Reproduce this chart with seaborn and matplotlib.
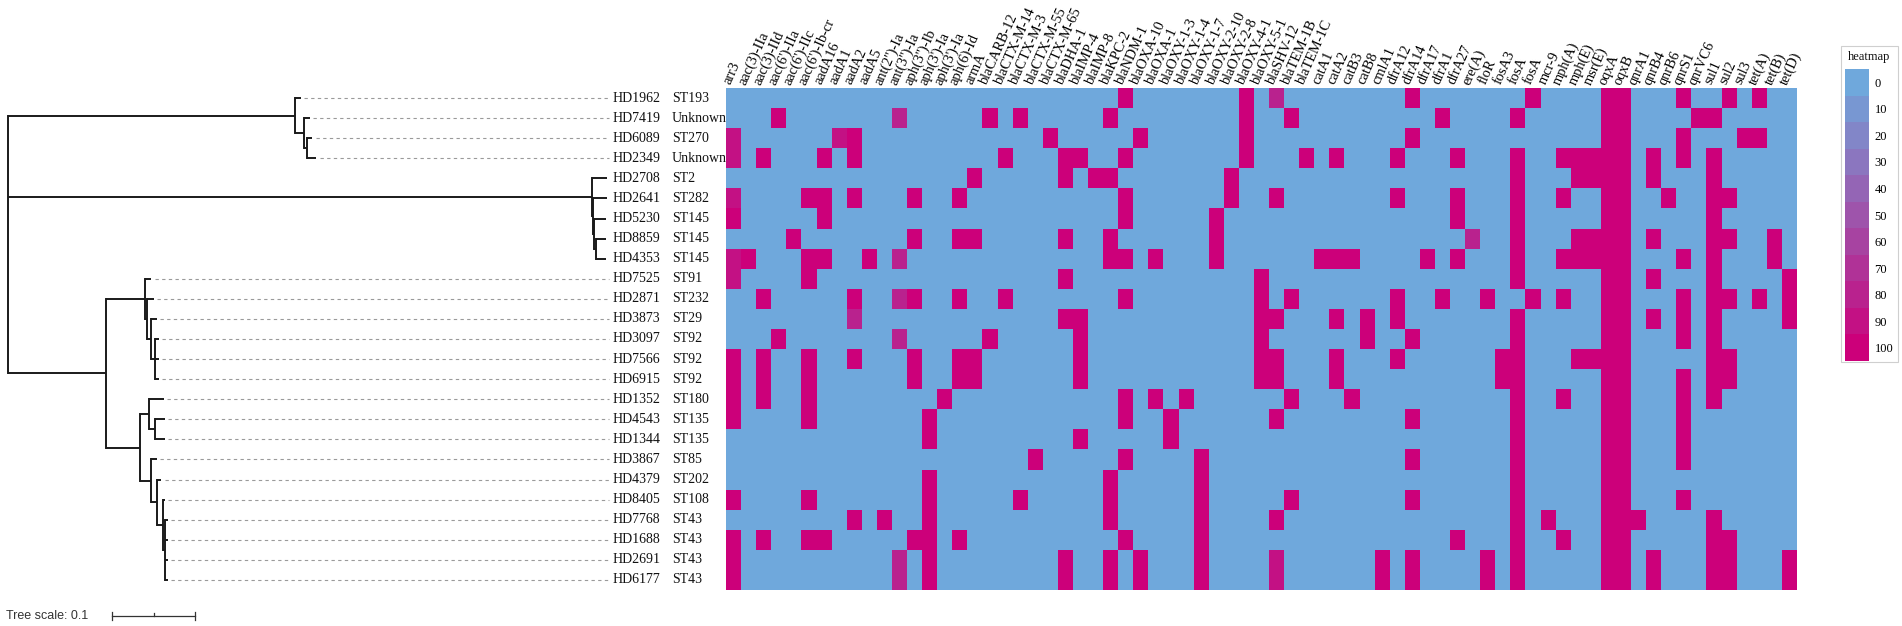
import numpy as np
import pandas as pd
import matplotlib
matplotlib.use("Agg")
import matplotlib.pyplot as plt
import seaborn as sns
from matplotlib.colors import ListedColormap, Normalize, to_rgb
from matplotlib.cm import ScalarMappable
from matplotlib.patches import Rectangle

# ---------------- data ----------------
genes = ["arr3", "aac(3)-IIa", "aac(3)-IId", "aac(6')-IIa", "aac(6')-IIc", "aac(6')-Ib-cr",
         "aadA16", "aadA1", "aadA2", "aadA5", "ant(2'')-Ia", "ant(3'')-Ia", "aph(3'')-Ib",
         "aph(3')-Ia", "aph(3')-Ia", "aph(6)-Id", "armA", "blaCARB-12", "blaCTX-M-14",
         "blaCTX-M-3", "blaCTX-M-55", "blaCTX-M-65", "blaDHA-1", "blaIMP-4", "blaIMP-8",
         "blaKPC-2", "blaNDM-1", "blaOXA-10", "blaOXA-1", "blaOXY-1-3", "blaOXY-1-4",
         "blaOXY-1-7", "blaOXY-2-10", "blaOXY-2-8", "blaOXY-4-1", "blaOXY-5-1", "blaSHV-12",
         "blaTEM-1B", "blaTEM-1C", "catA1", "catA2", "catB3", "catB8", "cmlA1", "dfrA12",
         "dfrA14", "dfrA17", "dfrA1", "dfrA27", "ere(A)", "floR", "fosA3", "fosA", "fosA",
         "mcr-9", "mph(A)", "mph(E)", "msr(E)", "oqxA", "oqxB", "qnrA1", "qnrB4", "qnrB6",
         "qnrS1", "qnrVC6", "sul1", "sul2", "sul3", "tet(A)", "tet(B)", "tet(D)"]

isolates = ["HD1962", "HD7419", "HD6089", "HD2349", "HD2708", "HD2641", "HD5230", "HD8859",
            "HD4353", "HD7525", "HD2871", "HD3873", "HD3097", "HD7566", "HD6915", "HD1352",
            "HD4543", "HD1344", "HD3867", "HD4379", "HD8405", "HD7768", "HD1688", "HD2691",
            "HD6177"]
st_types = ["ST193", "Unknown", "ST270", "Unknown", "ST2", "ST282", "ST145", "ST145", "ST145",
            "ST91", "ST232", "ST29", "ST92", "ST92", "ST92", "ST180", "ST135", "ST135", "ST85",
            "ST202", "ST108", "ST43", "ST43", "ST43", "ST43"]

# gene columns with identity 100 for each isolate (row order)
full_hits = [
    [26, 34, 45, 53, 58, 59, 63, 66, 68],
    [3, 17, 19, 25, 34, 37, 47, 52, 58, 59, 64, 65],
    [8, 21, 27, 34, 45, 58, 59, 63, 67, 68],
    [2, 6, 8, 18, 22, 23, 26, 34, 38, 40, 44, 48, 52, 55, 56, 57, 58, 59, 61, 63, 65],
    [16, 22, 24, 25, 33, 52, 56, 57, 58, 59, 61, 65],
    [5, 6, 8, 12, 15, 26, 33, 36, 44, 48, 52, 55, 58, 59, 62, 65, 66],
    [0, 6, 26, 32, 48, 52, 58, 59, 65],
    [4, 12, 15, 16, 22, 25, 32, 52, 56, 57, 58, 59, 61, 65, 66, 69],
    [1, 5, 6, 9, 25, 26, 28, 32, 39, 40, 41, 46, 48, 52, 55, 56, 57, 58, 59, 63, 65, 69],
    [5, 22, 35, 52, 58, 59, 61, 65, 70],
    [2, 8, 12, 15, 18, 26, 35, 37, 44, 47, 50, 53, 55, 58, 59, 63, 65, 66, 68, 70],
    [22, 23, 35, 36, 40, 42, 44, 52, 58, 59, 61, 63, 65, 70],
    [3, 17, 23, 35, 42, 45, 52, 58, 59, 63, 65],
    [0, 2, 5, 8, 12, 15, 16, 23, 35, 36, 40, 44, 51, 52, 56, 57, 58, 59, 65, 66],
    [0, 2, 5, 12, 15, 16, 23, 35, 36, 40, 51, 52, 58, 59, 63, 65, 66],
    [0, 2, 5, 14, 26, 28, 30, 37, 41, 52, 55, 58, 59, 63, 65],
    [0, 5, 13, 26, 29, 36, 45, 52, 58, 59, 63],
    [13, 23, 29, 52, 58, 59, 63],
    [20, 26, 31, 45, 52, 58, 59, 63],
    [13, 25, 31, 52, 58, 59],
    [0, 5, 13, 19, 25, 31, 37, 45, 52, 58, 59, 63],
    [8, 10, 13, 25, 31, 36, 52, 54, 58, 59, 60, 65],
    [0, 2, 5, 6, 12, 13, 15, 26, 31, 48, 52, 55, 58, 59, 65, 66],
    [0, 13, 22, 25, 27, 31, 43, 45, 50, 52, 58, 59, 61, 65, 66, 70],
    [0, 13, 22, 25, 27, 31, 43, 45, 50, 52, 58, 59, 61, 65, 66, 70],
]
# (row, column, identity) for cells below 100
partial_row = [0, 1, 2, 2, 3, 5, 7, 8, 8, 9, 10, 11, 12, 23, 23, 24, 24]
partial_col = [36, 11, 0, 7, 0, 0, 49, 0, 11, 0, 11, 8, 11, 11, 36, 11, 36]
partial_val = [80, 80, 90, 90, 90, 90, 80, 90, 80, 90, 80, 80, 80, 80, 85, 80, 85]

colorbar_ticks = [0, 10, 20, 30, 40, 50, 60, 70, 80, 90, 100]

# tree: node, parent, branch length (tree units)
tree_node = ["A", "HD1962", "B", "HD7419", "C", "HD6089", "HD2349",
             "D", "HD2708", "E", "HD2641", "F", "HD5230", "G", "HD8859", "HD4353",
             "H", "I", "HD7525", "J", "HD2871", "K", "HD3873", "L", "HD3097", "HD7566", "HD6915",
             "M", "N", "HD1352", "O", "HD4543", "HD1344", "P", "HD3867", "Q", "HD4379", "R",
             "HD8405", "S", "HD7768", "HD1688", "HD2691", "HD6177"]
tree_parent = ["root", "A", "A", "B", "B", "C", "C",
               "root", "D", "D", "E", "E", "F", "F", "G", "G",
               "root", "H", "I", "I", "J", "J", "K", "K", "L", "L", "L",
               "H", "M", "N", "N", "O", "O", "M", "P", "P", "Q", "Q",
               "R", "R", "S", "S", "S", "S"]
tree_len = [0.345, 0.007, 0.011, 0.007, 0.004, 0.006, 0.011,
            0.703, 0.018, 0.001, 0.017, 0.002, 0.014, 0.002, 0.012, 0.012,
            0.117, 0.048, 0.007, 0.002, 0.008, 0.005, 0.007, 0.005, 0.004, 0.004, 0.004,
            0.041, 0.011, 0.018, 0.008, 0.011, 0.011, 0.014, 0.007, 0.007, 0.005, 0.007,
            0.002, 0.002, 0.004, 0.004, 0.004, 0.004]
tree_scale_len = 0.1

# ---------------- matrix ----------------
mat = np.zeros((len(isolates), len(genes)))
for r, cols in enumerate(full_hits):
    mat[r, cols] = 100
for r, c, v in zip(partial_row, partial_col, partial_val):
    mat[r, c] = v
df = pd.DataFrame(mat, index=isolates)

blue = np.array(to_rgb("#6FA8DC"))
mag = np.array(to_rgb("#CC007A"))
cols11 = [tuple(blue + (mag - blue) * t / 100.0) for t in colorbar_ticks]
cmap = ListedColormap(cols11)
vmin, vmax = -5, 105

# ---------------- layout ----------------
W, H = 1902, 626
fig = plt.figure(figsize=(W / 100, H / 100), dpi=100)
fig.patch.set_facecolor("white")

def fx(px):
    return px / W

def fy(py):
    return 1 - py / H

hm_l, hm_r, hm_t, hm_b = 726, 1797, 88, 590
ax_hm = fig.add_axes([fx(hm_l), fy(hm_b), (hm_r - hm_l) / W, (hm_b - hm_t) / H])
sns.heatmap(df, ax=ax_hm, cmap=cmap, vmin=vmin, vmax=vmax, cbar=False,
            xticklabels=genes, yticklabels=False, linewidths=0)
ax_hm.xaxis.tick_top()
ax_hm.set_xticks(np.arange(len(genes)) + 0.5)
ax_hm.set_xticklabels(genes, rotation=66, ha="left", va="bottom", rotation_mode="anchor",
                      fontfamily="Liberation Serif", fontsize=10.4)
ax_hm.tick_params(axis="x", length=0, pad=1)
ax_hm.tick_params(axis="y", length=0)
ax_hm.set_xlabel("")
ax_hm.set_ylabel("")

# ---------------- tree ----------------
px_per_unit = 830.0
x0_px = 8.5

def px2u(px):
    return (px - x0_px) / px_per_unit

ax_tr = fig.add_axes([0, fy(hm_b), fx(hm_l), (hm_b - hm_t) / H])
ax_tr.set_xlim(px2u(0), px2u(hm_l))
ax_tr.set_ylim(len(isolates), 0)
ax_tr.axis("off")

children = {}
for n, p in zip(tree_node, tree_parent):
    children.setdefault(p, []).append(n)
blen = dict(zip(tree_node, tree_len))
row_of = {n: i for i, n in enumerate(isolates)}
depth = {"root": 0.0}

def set_depth(n):
    for c in children.get(n, []):
        depth[c] = depth[n] + blen[c]
        set_depth(c)

set_depth("root")
ypos = {}

def set_y(n):
    if n in row_of:
        ypos[n] = row_of[n] + 0.5
    else:
        ys = [set_y(c) for c in children[n]]
        ypos[n] = (min(ys) + max(ys)) / 2
    return ypos[n]

set_y("root")
parent_of = dict(zip(tree_node, tree_parent))
lw_tree = 1.4
tc = "#1a1a1a"
for n in tree_node:
    p = parent_of[n]
    ax_tr.plot([depth[p], depth[n]], [ypos[n], ypos[n]], color=tc, lw=lw_tree,
               solid_capstyle="butt")
for n, ch in children.items():
    ys = [ypos[c] for c in ch]
    ax_tr.plot([depth[n], depth[n]], [min(ys), max(ys)], color=tc, lw=lw_tree,
               solid_capstyle="projecting")

dash_end = px2u(609)
for n in isolates:
    if depth[n] < dash_end - 0.003:
        ax_tr.plot([depth[n] + 0.004, dash_end], [ypos[n], ypos[n]], color="#9a9a9a",
                   lw=0.8, linestyle=(0, (3, 3)))
    ax_tr.text(px2u(613), ypos[n], n, ha="left", va="center", fontsize=10,
               fontfamily="Liberation Serif", color="#111111")
for n, st in zip(isolates, st_types):
    ax_tr.text(px2u(672), ypos[n], st, ha="left", va="center", fontsize=10,
               fontfamily="Liberation Serif", color="#111111")

# tree scale bar
row_px = (hm_b - hm_t) / len(isolates)
y_sb = (616 - hm_t) / row_px
sb0 = px2u(112)
ax_tr.plot([sb0, sb0 + tree_scale_len], [y_sb, y_sb], color="#333333", lw=0.9, clip_on=False)
for xt, up, dn in [(sb0, 0.2, 0.2), (sb0 + tree_scale_len / 2, 0.15, 0.0),
                   (sb0 + tree_scale_len, 0.2, 0.2)]:
    ax_tr.plot([xt, xt], [y_sb - up, y_sb + dn], color="#333333", lw=0.9, clip_on=False)
fig.text(fx(6), fy(616), "Tree scale: 0.1", ha="left", va="center", fontsize=9,
         fontfamily="Liberation Sans", color="#333333")

# ---------------- colour legend ----------------
fig.add_artist(Rectangle((fx(1841), fy(362)), (1898 - 1841) / W, (362 - 46) / H,
                         transform=fig.transFigure, fill=False, edgecolor="#cfcfcf", lw=0.8))
fig.text(fx(1869), fy(57), "heatmap", ha="center", va="center", fontsize=9,
         fontfamily="Liberation Serif", color="#111111")
cax = fig.add_axes([fx(1845), fy(361), 24 / W, (361 - 69) / H])
cb = fig.colorbar(ScalarMappable(norm=Normalize(vmin, vmax), cmap=cmap), cax=cax,
                  ticks=colorbar_ticks)
cb.outline.set_visible(False)
cax.invert_yaxis()
cax.tick_params(length=0, pad=4, labelsize=9)
for t in cax.get_yticklabels():
    t.set_fontfamily("Liberation Serif")

fig.savefig("out.png", dpi=100, facecolor="white")
